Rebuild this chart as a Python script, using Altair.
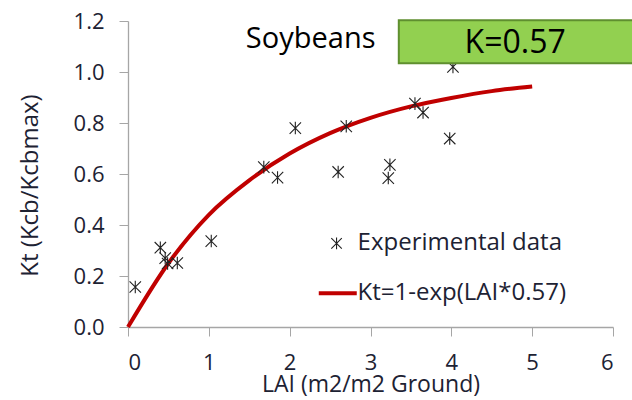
import altair as alt
import pandas as pd

# Measured transpiration coefficient against leaf area index
lai_obs = [0.09, 0.40, 0.46, 0.49, 0.61, 1.03, 1.68, 1.85, 2.07, 2.60, 2.70,
           3.24, 3.22, 3.55, 3.65, 3.98, 4.02]
kt_obs = [0.157, 0.311, 0.27, 0.249, 0.251, 0.337, 0.627, 0.586, 0.780, 0.608,
          0.787, 0.636, 0.584, 0.876, 0.841, 0.739, 1.02]

# Fitted curve Kt = 1 - exp(-0.57 LAI)
lai_fit = [0.0, 0.5, 1.0, 1.5, 2.0, 2.5, 3.0, 3.5, 4.0, 4.5, 5.0]
kt_fit = [0.0, 0.25, 0.44, 0.575, 0.68, 0.76, 0.82, 0.865, 0.898, 0.925, 0.943]

x_ticks = [0, 1, 2, 3, 4, 5, 6]
y_ticks = [0.0, 0.2, 0.4, 0.6, 0.8, 1.0, 1.2]

obs = pd.DataFrame({"lai": lai_obs, "kt": kt_obs})
fit = pd.DataFrame({"lai": lai_fit, "kt": kt_fit})

FONT = "Open Sans"
TXT = "#1d2233"
RED = "#c00000"
STAR = "M-1,-1L1,1M-1,1L1,-1M0,-1.1L0,1.1"

x_scale = alt.Scale(domain=[0, 6], nice=False, zero=False)
y_scale = alt.Scale(domain=[0, 1.2], nice=False, zero=False)

x_axis = alt.Axis(values=x_ticks, format="d", title="LAI (m2/m2 Ground)",
                  grid=False, tickSize=9, labelPadding=16,
                  labelFontSize=22, titleFontSize=23,
                  titleY=57, titleBaseline="middle")
y_axis = alt.Axis(values=y_ticks, format=".1f", title="Kt (Kcb/Kcbmax)",
                  grid=False, tickSize=9, labelPadding=15,
                  labelFontSize=22, titleFontSize=24,
                  titleX=-98, titleY=164, titleBaseline="middle", titleAlign="center")

curve = alt.Chart(fit).mark_line(color=RED, strokeWidth=4, interpolate="monotone").encode(
    x=alt.X("lai:Q", scale=x_scale, axis=x_axis),
    y=alt.Y("kt:Q", scale=y_scale, axis=y_axis),
)

points = alt.Chart(obs).mark_point(shape=STAR, size=130, stroke="#222222",
                                   strokeWidth=1.1, filled=False, opacity=1).encode(
    x="lai:Q", y="kt:Q",
)

# Title and K-value box
crop_title = alt.Chart(pd.DataFrame({"lai": [2.26], "kt": [1.13], "t": ["Soybeans"]})).mark_text(
    font=FONT, fontSize=29, color="#000000", align="center", baseline="middle"
).encode(x="lai:Q", y="kt:Q", text="t:N")

k_box = alt.Chart(pd.DataFrame({"x1": [3.35], "x2": [6.35], "y1": [1.034], "y2": [1.203]})).mark_rect(
    fill="#92d050", stroke="#5f8f2f", strokeWidth=2
).encode(x="x1:Q", x2="x2:Q", y="y1:Q", y2="y2:Q")

k_text = alt.Chart(pd.DataFrame({"lai": [4.79], "kt": [1.112], "t": ["K=0.57"]})).mark_text(
    font=FONT, fontSize=32, color="#000000", align="center", baseline="middle"
).encode(x="lai:Q", y="kt:Q", text="t:N")

# Legend drawn inside the plot area
leg_pt = alt.Chart(pd.DataFrame({"lai": [2.58], "kt": [0.328]})).mark_point(
    shape=STAR, size=110, stroke="#222222", strokeWidth=1.1, filled=False, opacity=1
).encode(x="lai:Q", y="kt:Q")

leg_line = alt.Chart(pd.DataFrame({"lai": [2.36], "lai2": [2.83], "kt": [0.132]})).mark_rule(
    color=RED, strokeWidth=4
).encode(x="lai:Q", x2="lai2:Q", y="kt:Q")

leg_text = alt.Chart(pd.DataFrame({"lai": [2.84, 2.84], "kt": [0.328, 0.132],
                                   "t": ["Experimental data", "Kt=1-exp(LAI*0.57)"]})).mark_text(
    font=FONT, fontSize=24, color=TXT, align="left", baseline="middle"
).encode(x="lai:Q", y="kt:Q", text="t:N")

chart = alt.layer(curve, points, crop_title, k_box, k_text, leg_pt, leg_line, leg_text).properties(
    width=485, height=306,
    autosize=alt.AutoSizeParams(type="none"),
    padding={"left": 128, "top": 21, "right": 19, "bottom": 73},
).configure_view(stroke=None).configure_axis(
    domainColor="#a6a6a6", tickColor="#a6a6a6", labelColor=TXT, titleColor=TXT,
    labelFont=FONT, titleFont=FONT, titleFontWeight="normal", domainWidth=1.3,
)

chart.save("out.html", embed_options={"renderer": "svg", "actions": False})
